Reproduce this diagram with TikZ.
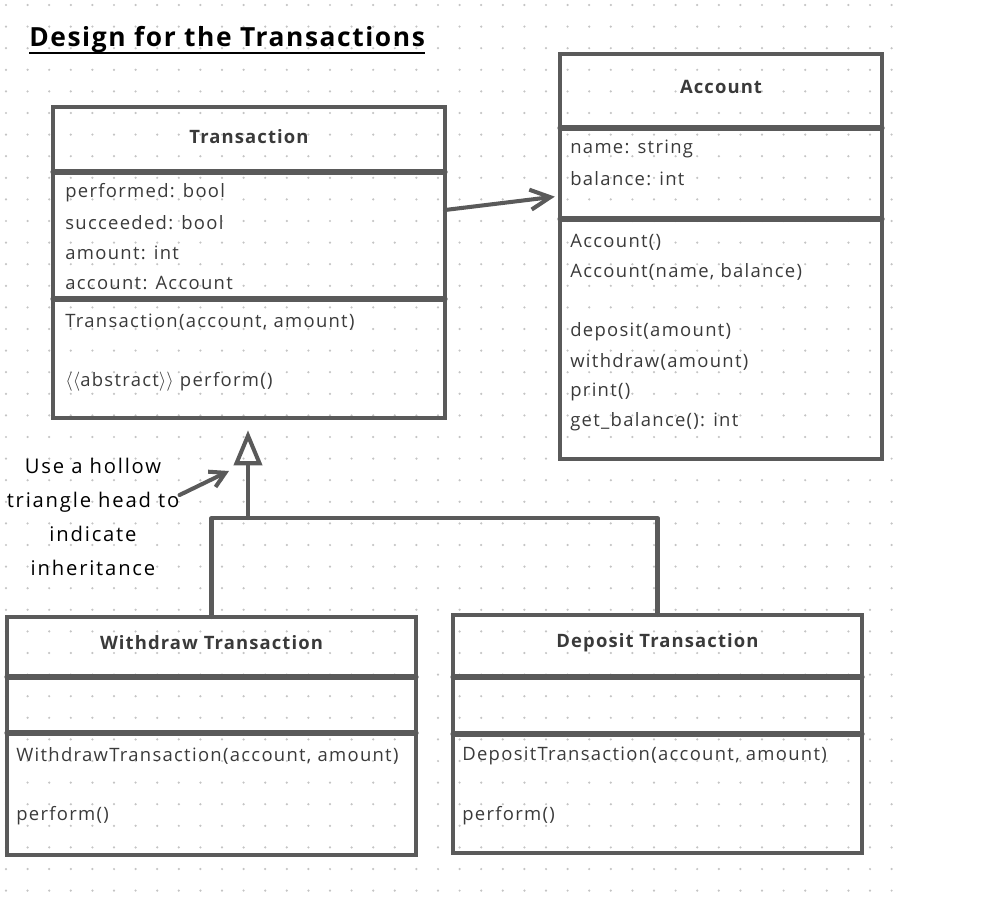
\documentclass[tikz,border=0pt]{standalone}
\usepackage{fontspec}
\setmainfont{Open Sans}
\newfontfamily\bodyfont[LetterSpace=7]{Open Sans}
\newfontfamily\headfont[LetterSpace=6]{Open Sans}
\newfontfamily\notefont[LetterSpace=9]{Open Sans}
\usetikzlibrary{positioning, arrows.meta}

\definecolor{ink}{HTML}{5A5A5A}
\definecolor{textgray}{HTML}{3A3A3A}
\definecolor{dotgray}{HTML}{C4C4C4}

\tikzset{
    classbox/.style={draw=ink, line width=2.3pt, inner sep=0pt, outer sep=0pt},
    divider/.style={draw=ink, line width=3pt, line cap=round},
    classname/.style={font=\headfont\fontsize{10.5}{12}\selectfont\bfseries, text=textgray},
    member/.style={anchor=west, inner sep=0pt, font=\bodyfont\fontsize{10.5}{12}\selectfont, text=textgray},
    edge/.style={draw=ink, line width=2.3pt, line cap=round, line join=round},
}

\begin{document}
\begin{tikzpicture}[x=0.02cm, y=-0.02cm]
    \useasboundingbox (0,0) rectangle (999,903);

    % dotted paper
    \foreach \i in {0,...,41}
        \foreach \j in {0,...,41}
            \fill[dotgray] (6+21.6*\i, 5+21.6*\j) circle (0.7pt);

    \node [anchor=west, inner sep=0pt, font=\headfont\fontsize{15}{18}\selectfont\bfseries] (title) at (29,40) {Design for the Transactions};
    \draw [line width=1.2pt] (title.west |- 0,53) -- (title.east |- 0,53);

    % Transaction
    \node [classbox, minimum width=7.84cm, minimum height=6.22cm] (trans) at (249,262.5) {};
    \node [classname] (transname) at (249,137) {Transaction};
    \draw [divider] (trans.west |- 0,172) -- (trans.east |- 0,172);
    \draw [divider] (trans.west |- 0,299) -- (trans.east |- 0,299);
    \node [member] (performed) at (65,193) {performed: bool};
    \node [member] (succeeded) at (65,223) {succeeded: bool};
    \node [member] (amount) at (65,253) {amount: int};
    \node [member] (account) at (65,283) {account: Account};
    \node [member] (transctor) at (65,322) {Transaction(account, amount)};
    \node [member] (transperform) at (65,382) {\(\langle\langle\)abstract\(\rangle\rangle\) perform()};

    % Account
    \node [classbox, minimum width=6.44cm, minimum height=8.1cm] (acct) at (721,256.5) {};
    \node [classname] (acctname) at (721,87) {Account};
    \draw [divider] (acct.west |- 0,128) -- (acct.east |- 0,128);
    \draw [divider] (acct.west |- 0,219) -- (acct.east |- 0,219);
    \node [member] (name) at (570,149) {name: string};
    \node [member] (balance) at (570,179) {balance: int};
    \node [member] (ctor1) at (570,242) {Account()};
    \node [member] (ctor2) at (570,272) {Account(name, balance)};
    \node [member] (deposit) at (570,332) {deposit(amount)};
    \node [member] (withdrawm) at (570,362) {withdraw(amount)};
    \node [member] (print) at (570,392) {print()};
    \node [member] (getbal) at (570,422) {get\_balance(): int};

    % Withdraw Transaction
    \node [classbox, minimum width=8.18cm, minimum height=4.76cm] (withdraw) at (211.5,736) {};
    \node [classname] (withdrawname) at (211.5,643) {Withdraw Transaction};
    \draw [divider] (withdraw.west |- 0,677) -- (withdraw.east |- 0,677);
    \draw [divider] (withdraw.west |- 0,733) -- (withdraw.east |- 0,733);
    \node [member] (withdrawctor) at (16,756) {WithdrawTransaction(account, amount)};
    \node [member] (withdrawperform) at (16,816) {perform()};

    % Deposit Transaction
    \node [classbox, minimum width=8.18cm, minimum height=4.76cm] (depo) at (657.5,734) {};
    \node [classname] (deponame) at (657.5,643) {Deposit Transaction};
    \draw [divider] (depo.west |- 0,677) -- (depo.east |- 0,677);
    \draw [divider] (depo.west |- 0,734) -- (depo.east |- 0,734);
    \node [member] (depoctor) at (462,756) {DepositTransaction(account, amount)};
    \node [member] (depoperform) at (462,816) {perform()};

    % association
    \draw [edge, -{Straight Barb[length=4mm, width=4mm]}, shorten >=3]
        (trans.east |- 0,210) -- (acct.west |- 0,196);

    % inheritance
    \coordinate (join) at (248,518);
    \draw [edge] (withdraw.north) |- (depo.north |- join) -- (depo.north);
    \draw [edge, -{Triangle[open, length=7mm, width=5.6mm]}, shorten >=7]
        (join) -- (trans.south -| join);

    \node [align=center, inner sep=0pt, font=\notefont\fontsize{11.5}{19.3}\selectfont, text=black] (note) at (93,517)
        {Use a hollow\\triangle head to\\indicate\\inheritance};
    \coordinate (hint) at (229,471);
    \draw [edge, -{Straight Barb[length=3mm, width=3.4mm]}] (note.east |- 0,495) -- (hint);
\end{tikzpicture}
\end{document}
